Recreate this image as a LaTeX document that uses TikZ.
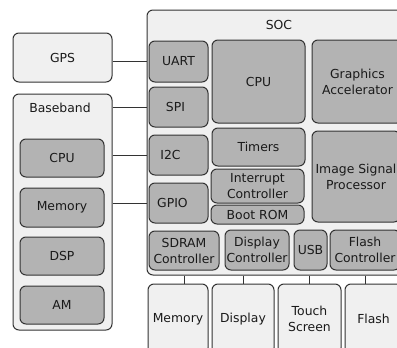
\documentclass[tikz,border=0pt]{standalone}
\usepackage{fontspec}
\setmainfont{DejaVu Sans}
\definecolor{outerfill}{HTML}{F0F0F0}
\definecolor{innerfill}{HTML}{B3B3B3}
\definecolor{edge}{HTML}{333333}
\definecolor{txt}{HTML}{1A1A1A}
\tikzset{
  base/.style={draw=edge, line width=1pt, rounded corners=6pt, inner sep=0pt, align=center,
    text=txt, font=\fontsize{12.4}{16}\selectfont},
  outerbox/.style={base, fill=outerfill},
  innerbox/.style={base, fill=innerfill},
  lbl/.style={inner sep=0pt, text=txt, font=\fontsize{12.4}{16}\selectfont},
  wire/.style={draw=edge, line width=1pt},
  sz/.style 2 args={minimum width=#1pt, minimum height=#2pt}
}
\begin{document}
\begin{tikzpicture}[x=1pt,y=-1pt]
\useasboundingbox (0,0) rectangle (397,348);
\clip (0,0) rectangle (397,348);
\fill[white] (0,0) rectangle (397,348);

% left side
\node[outerbox, sz={99}{49}] (gps) at (62.5,57.5) {GPS};
\node[outerbox, sz={99}{236}] (baseband) at (62.5,212) {};
\node[lbl] (bblabel) at (60,108) {Baseband};
\node[innerbox, sz={84}{38}] (bbcpu) at (62,158) {CPU};
\node[innerbox, sz={84}{39}] (bbmem) at (62,207.5) {Memory};
\node[innerbox, sz={84}{38}] (dsp) at (62,256) {DSP};
\node[innerbox, sz={84}{38}] (am) at (62,305) {AM};

% SOC
\node[outerbox, sz={263}{265}] (soc) at (278.5,142.5) {};
\node[lbl] (soclabel) at (279,25) {SOC};
\node[innerbox, sz={59}{41}] (uart) at (178.5,61.5) {UART};
\node[innerbox, sz={59}{40}] (spi) at (178.5,107) {SPI\hspace*{6pt}};
\node[innerbox, sz={59}{40}] (i2c) at (178.5,155) {I2C\hspace*{16pt}};
\node[innerbox, sz={59}{40}] (gpio) at (178.5,203) {GPIO\hspace*{12pt}};
\node[innerbox, sz={70}{39}] (sdram) at (184,250.5) {SDRAM\\Controller};
\node[innerbox, sz={93}{83}] (cpu) at (258.5,81.5) {CPU};
\node[innerbox, sz={91}{83}] (gfx) at (357.5,81.5) {Graphics\\Accelerator};
\node[innerbox, sz={93}{38}] (timers) at (258.5,147) {Timers};
\node[innerbox, sz={93}{34}] (intc) at (257.5,186) {Interrupt\\Controller};
\node[innerbox, sz={93}{19}] (bootrom) at (257.5,214.5) {Boot ROM};
\node[innerbox, sz={88}{91}] (isp) at (356,176.5) {Image Signal\\Processor};
\node[innerbox, sz={64}{40}] (dispc) at (257,250) {Display\\Controller};
\node[innerbox, sz={33}{40}] (usb) at (310.5,250) {USB};
\node[innerbox, sz={70}{40}] (flashc) at (365,250) {Flash\\Controller};

% bottom external
\node[outerbox, sz={60}{70}] (mem) at (178,319) {Memory};
\node[outerbox, sz={62}{70}] (disp) at (243,319) {Display};
\node[outerbox, sz={63}{70}] (touch) at (309.5,319) {Touch\\Screen};
\node[outerbox, sz={57}{70}] (flash) at (373.5,319) {Flash};

% connectors left
\draw[wire] (uart.west -| gps.east) -- (uart.west -| soc.west);
\draw[wire] (spi.west -| baseband.east) -- (spi.west -| soc.west);
\draw[wire] (i2c.west -| baseband.east) -- (i2c.west -| soc.west);
\draw[wire] (gpio.west -| baseband.east) -- (gpio.west -| soc.west);

% connectors bottom
\draw[wire] (sdram.center |- soc.south) -- (sdram.center |- mem.north);
\draw[wire] (disp.north |- soc.south) -- (disp.north);
\draw[wire] (touch.north |- soc.south) -- (touch.north);
\draw[wire] (flashc.center |- soc.south) -- (flashc.center |- flash.north);
\end{tikzpicture}
\end{document}
